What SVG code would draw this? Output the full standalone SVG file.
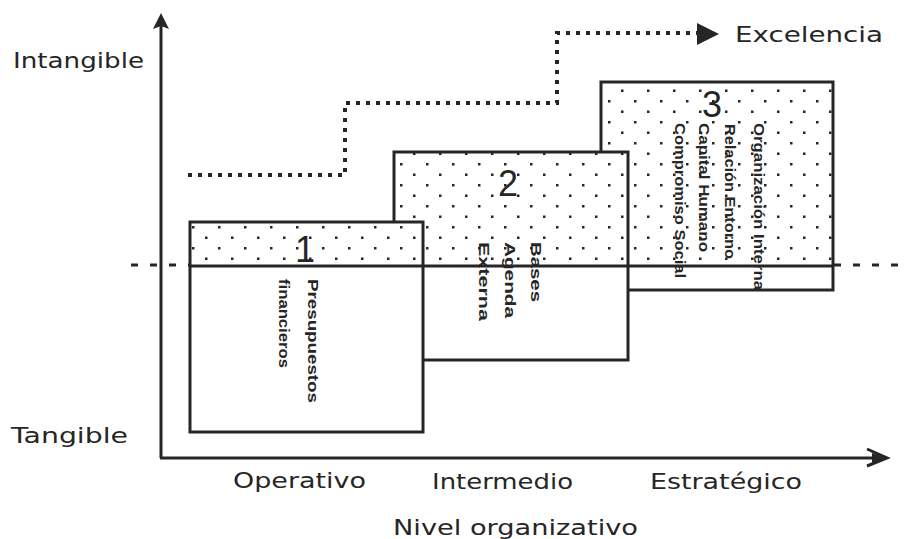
<svg xmlns="http://www.w3.org/2000/svg" width="904" height="539" viewBox="0 0 904 539">
<style>
.ln{stroke:#262626;stroke-width:3;fill:none}
.lbl{font-family:"DejaVu Sans","Liberation Sans",sans-serif;font-size:21px;fill:#262626}
.num{font-family:"Liberation Sans",Arial,sans-serif;font-size:36px;fill:#262626;text-anchor:middle}
.vt{font-family:"Liberation Sans",Arial,sans-serif;font-size:15px;font-weight:bold;fill:#262626}
.dots{fill:url(#dotpat)}
</style>
<defs>
<pattern id="dotpat" patternUnits="userSpaceOnUse" x="192" y="226" width="26" height="21">
<rect x="0" y="0" width="2.5" height="2.5" fill="#262626"/>
<rect x="13" y="10.5" width="2.5" height="2.5" fill="#262626"/>
</pattern>
</defs>
<rect width="904" height="539" fill="#ffffff"/>

<g id="connectors">
<line x1="131" y1="265" x2="904" y2="265" stroke="#262626" stroke-width="3" stroke-dasharray="7 12"/>
<path d="M188,175 H345 V103 H557 V33 H700" stroke="#262626" stroke-width="4" stroke-dasharray="4 6" fill="none"/>
<polygon points="697,23 719,34 697,45" fill="#262626"/>
</g>

<g id="axes">
<line class="ln" x1="161" y1="22" x2="161" y2="458"/>
<polygon points="161,13 169,29 161,26 153,29" fill="#262626"/>
<line class="ln" x1="160" y1="458" x2="885" y2="458"/>
<polyline class="ln" points="867,449 887,458 867,466" stroke-width="2.5"/>
<polygon points="872,453 888,458 872,463" fill="#262626"/>
</g>

<g id="box3">
<rect x="601" y="82" width="232" height="208" fill="#ffffff"/>
<rect x="601" y="82" width="232" height="184" class="dots"/>
<line class="ln" x1="601" y1="266" x2="833" y2="266"/>
<rect class="ln" x="601" y="82" width="232" height="208"/>
<text class="num" x="712" y="117">3</text>
<text class="vt" transform="translate(754,123) rotate(90)" textLength="167" lengthAdjust="spacingAndGlyphs">Organización Interna</text>
<text class="vt" transform="translate(725,124) rotate(90)" textLength="135" lengthAdjust="spacingAndGlyphs">Relación Entorno</text>
<text class="vt" transform="translate(699,123) rotate(90)" textLength="129" lengthAdjust="spacingAndGlyphs">Capital Humano</text>
<text class="vt" transform="translate(675,123) rotate(90)" textLength="155" lengthAdjust="spacingAndGlyphs">Compromiso Social</text>
</g>

<g id="box2">
<rect x="394" y="152" width="234" height="208" fill="#ffffff"/>
<rect x="394" y="152" width="234" height="114" class="dots"/>
<line class="ln" x1="394" y1="266" x2="628" y2="266"/>
<rect class="ln" x="394" y="152" width="234" height="208"/>
<text class="num" x="508" y="196">2</text>
<text class="vt" transform="translate(531,242) rotate(90)" textLength="60" lengthAdjust="spacingAndGlyphs">Bases</text>
<text class="vt" transform="translate(505,242) rotate(90)" textLength="76" lengthAdjust="spacingAndGlyphs">Agenda</text>
<text class="vt" transform="translate(479,242) rotate(90)" textLength="79" lengthAdjust="spacingAndGlyphs">Externa</text>
</g>

<g id="box1">
<rect x="190" y="222" width="233" height="210" fill="#ffffff"/>
<rect x="190" y="222" width="233" height="44" class="dots"/>
<line class="ln" x1="190" y1="266" x2="423" y2="266"/>
<rect class="ln" x="190" y="222" width="233" height="210"/>
<text class="num" x="305" y="262">1</text>
<text class="vt" transform="translate(308,279) rotate(90)" textLength="124" lengthAdjust="spacingAndGlyphs">Presupuestos</text>
<text class="vt" transform="translate(279,279) rotate(90)" textLength="89" lengthAdjust="spacingAndGlyphs">financieros</text>
</g>

<g id="labels">
<text class="lbl" x="13" y="68" textLength="131" lengthAdjust="spacingAndGlyphs">Intangible</text>
<text class="lbl" x="11" y="443" textLength="117" lengthAdjust="spacingAndGlyphs">Tangible</text>
<text class="lbl" x="233" y="488" textLength="133" lengthAdjust="spacingAndGlyphs">Operativo</text>
<text class="lbl" x="432" y="489" textLength="141" lengthAdjust="spacingAndGlyphs">Intermedio</text>
<text class="lbl" x="650" y="489" textLength="152" lengthAdjust="spacingAndGlyphs">Estratégico</text>
<text class="lbl" x="393" y="535" textLength="245" lengthAdjust="spacingAndGlyphs">Nivel organizativo</text>
<text class="lbl" x="735" y="42" textLength="148" lengthAdjust="spacingAndGlyphs">Excelencia</text>
</g>
</svg>
